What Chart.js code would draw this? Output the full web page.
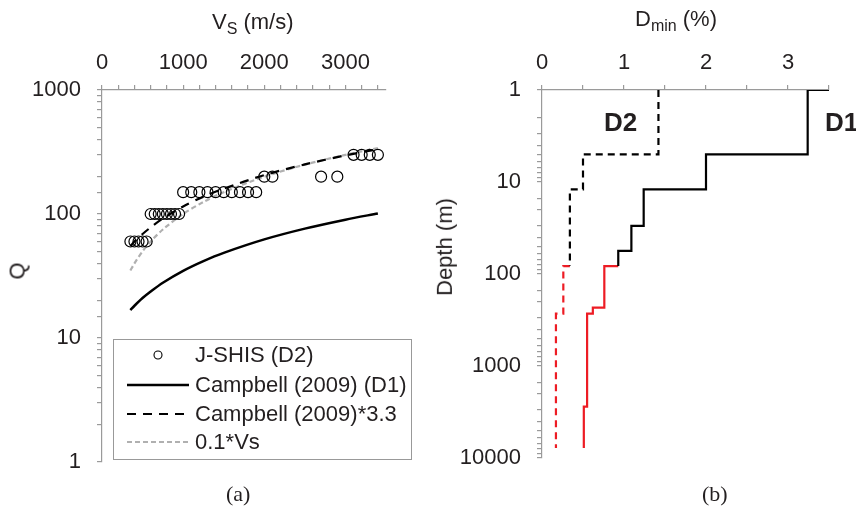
<!DOCTYPE html>
<html>
<head>
<meta charset="utf-8">
<script src="https://cdn.jsdelivr.net/npm/chart.js@4.4.1/dist/chart.umd.min.js"></script>
<style>
  body { margin: 0; background: #fff; }
  #wrap { position: relative; width: 856px; height: 516px; overflow: hidden; font-family: "Liberation Sans", Arial, sans-serif; color: #231f20; }
  canvas { position: absolute; top: 0; }
  .lbl { position: absolute; font-size: 22px; white-space: nowrap; }
  .lbl sub { font-size: 16px; vertical-align: -5px; }
  .cap { position: absolute; font-family: "Liberation Serif", "Times New Roman", serif; font-size: 22px; }
  .tag { position: absolute; font-weight: bold; font-size: 26px; }
  #legend { position: absolute; left: 113px; top: 339px; width: 299px; height: 121px; border: 1px solid #999; box-sizing: border-box; }
  #legend .row { position: absolute; left: 0; height: 28px; display: flex; align-items: center; font-size: 22px; }
  #legend svg { width: 62px; height: 20px; margin-left: 13px; margin-right: 6px; }
</style>
</head>
<body>
<div id="wrap">
  <canvas id="qChart" width="430" height="516" style="left:0"></canvas>
  <canvas id="dChart" width="426" height="516" style="left:430px"></canvas>

  <div class="lbl" style="left:212px; top:9px;">V<sub>S</sub> (m/s)</div>
  <div class="lbl" style="left:9px; top:258px; transform: rotate(-90deg);">Q</div>
  <div class="lbl" style="left:635px; top:6px;">D<sub>min</sub> (%)</div>
  <div class="lbl" style="left:396px; top:234px; transform: rotate(-90deg);">Depth (m)</div>
  <div class="tag" style="left:604px; top:107px;">D2</div>
  <div class="tag" style="left:825px; top:107px;">D1</div>
  <div class="cap" style="left:226px; top:481px;">(a)</div>
  <div class="cap" style="left:702px; top:481px;">(b)</div>

  <div id="legend">
    <div class="row" style="top:1px;"><svg><circle cx="31" cy="10" r="4" fill="none" stroke="#000" stroke-width="1.1"/></svg>J-SHIS (D2)</div>
    <div class="row" style="top:31px;"><svg><line x1="0" y1="10" x2="62" y2="10" stroke="#000" stroke-width="2.5"/></svg>Campbell (2009) (D1)</div>
    <div class="row" style="top:60px;"><svg><line x1="0" y1="10" x2="62" y2="10" stroke="#000" stroke-width="2.2" stroke-dasharray="9,7"/></svg>Campbell (2009)*3.3</div>
    <div class="row" style="top:88px;"><svg><line x1="0" y1="10" x2="62" y2="10" stroke="#b0b0b0" stroke-width="2.2" stroke-dasharray="5,3"/></svg>0.1*Vs</div>
  </div>
</div>

<script>
// (a) Q vs Vs
const jshisVs = [350, 400, 450, 500, 550, 600, 650, 700, 750, 800, 850, 900, 950,
  1000, 1100, 1200, 1300, 1400, 1500, 1600, 1700, 1800, 1900, 2000, 2100,
  2700, 2900, 3100, 3200, 3300, 3400];
const jshisQ = [60, 60, 60, 60, 60, 100, 100, 100, 100, 100, 100, 100, 100,
  150, 150, 150, 150, 150, 150, 150, 150, 150, 150, 200, 200,
  200, 200, 300, 300, 300, 300];

const curveVs = [350, 400, 500, 600, 750, 1000, 1250, 1500, 2000, 2500, 3000, 3400];
const campbellQ = [16.8, 18.2, 21, 23.7, 27.9, 34.8, 41.7, 48.6, 62.4, 76.2, 90, 101];
const campbell33Q = [55, 60, 69, 78, 92, 115, 138, 160, 206, 251, 297, 333];
const vsTenthQ = [35, 40, 50, 60, 75, 100, 125, 150, 200, 250, 300, 340];

const qTickLabels = [1, 10, 100, 1000];
const vsTickLabels = [0, 1000, 2000, 3000];

// (b) Dmin profiles: layer top, layer bottom, damping (%)
const d1Top = [1, 5, 12, 30, 56, 82, 232, 270, 2770];
const d1Bottom = [5, 12, 30, 56, 82, 232, 270, 2770, 7800];
const d1Value = [3.24, 2.0, 1.24, 1.09, 0.93, 0.76, 0.62, 0.55, 0.51];

const d2Top = [1, 5, 12, 82, 270];
const d2Bottom = [5, 12, 82, 270, 7800];
const d2Value = [1.42, 0.5, 0.34, 0.26, 0.17];

const redFromDepth = 82;
const depthTickLabels = [1, 10, 100, 1000, 10000];
const dminTickLabels = [0, 1, 2, 3];

const axisGrey = "#9a9a9a";
const textColor = "#231f20";
Chart.defaults.font.family = "'Liberation Sans', Arial, sans-serif";
Chart.defaults.font.size = 22;
Chart.defaults.color = textColor;

function pairs(xs, ys) {
  return xs.map((x, i) => ({ x: x, y: ys[i] }));
}

// turn layers into a stepped profile and split it at the colour change
function profile(tops, bottoms, values, startX) {
  const shallow = [];
  const deep = [];
  if (startX !== undefined) shallow.push({ x: startX, y: tops[0] });
  values.forEach((v, i) => {
    const target = tops[i] < redFromDepth ? shallow : deep;
    if (target === deep && deep.length === 0 && shallow.length) {
      deep.push(shallow[shallow.length - 1]);
    }
    target.push({ x: v, y: tops[i] });
    target.push({ x: v, y: bottoms[i] });
  });
  return { shallow, deep };
}

function axisGrid() {
  return { drawOnChartArea: false, drawTicks: true, tickLength: 5, color: axisGrey, lineWidth: 1.2 };
}

new Chart(document.getElementById("qChart"), {
  type: "scatter",
  data: {
    datasets: [
      {
        label: "J-SHIS (D2)",
        data: pairs(jshisVs, jshisQ),
        pointStyle: "circle",
        pointRadius: 5.5,
        borderWidth: 1.2,
        borderColor: "#000",
        backgroundColor: "rgba(0,0,0,0)",
      },
      {
        label: "Campbell (2009) (D1)",
        data: pairs(curveVs, campbellQ),
        showLine: true,
        tension: 0.3,
        borderColor: "#000",
        borderWidth: 2.5,
        pointRadius: 0,
      },
      {
        label: "Campbell (2009)*3.3",
        data: pairs(curveVs, campbell33Q),
        showLine: true,
        tension: 0.3,
        borderColor: "#000",
        borderWidth: 2.2,
        borderDash: [9, 7],
        pointRadius: 0,
      },
      {
        label: "0.1*Vs",
        data: pairs(curveVs, vsTenthQ),
        showLine: true,
        tension: 0.3,
        borderColor: "#b0b0b0",
        borderWidth: 2.2,
        borderDash: [5, 3],
        pointRadius: 0,
      },
    ],
  },
  options: {
    responsive: false,
    animation: false,
    layout: { padding: { left: 0, top: 0, right: 44, bottom: 54 } },
    plugins: { legend: { display: false }, tooltip: { enabled: false } },
    scales: {
      x: {
        type: "linear",
        position: "top",
        min: 0,
        max: 3500,
        grid: axisGrid(),
        border: { display: true, color: axisGrey, width: 1.2 },
        afterFit: (s) => { s.height = 90; },
        ticks: {
          stepSize: 200,
          includeBounds: false,
          autoSkip: false,
          maxRotation: 0,
          padding: 9,
          callback: (v) => (vsTickLabels.includes(v) ? String(v) : ""),
        },
      },
      y: {
        type: "logarithmic",
        min: 1,
        max: 1000,
        grid: axisGrid(),
        border: { display: true, color: axisGrey, width: 1.2 },
        afterFit: (s) => { s.width = 102; },
        ticks: {
          autoSkip: false,
          padding: 16,
          callback: (v) => (qTickLabels.includes(v) ? String(v) : ""),
        },
      },
    },
  },
});

const d1 = profile(d1Top, d1Bottom, d1Value, 3.6);
const d2 = profile(d2Top, d2Bottom, d2Value);
const red = "#ed1c24";

new Chart(document.getElementById("dChart"), {
  type: "scatter",
  data: {
    datasets: [
      { label: "D1", data: d1.shallow, showLine: true, borderColor: "#000", borderWidth: 2.2, pointRadius: 0 },
      { label: "D1 deep", data: d1.deep, showLine: true, borderColor: red, borderWidth: 2.2, pointRadius: 0 },
      { label: "D2", data: d2.shallow, showLine: true, borderColor: "#000", borderWidth: 2.2, borderDash: [7, 5], pointRadius: 0 },
      { label: "D2 deep", data: d2.deep, showLine: true, borderColor: red, borderWidth: 2.2, borderDash: [7, 5], pointRadius: 0 },
    ],
  },
  options: {
    responsive: false,
    animation: false,
    layout: { padding: { left: 0, top: 0, right: 27, bottom: 58 } },
    plugins: { legend: { display: false }, tooltip: { enabled: false } },
    scales: {
      x: {
        type: "linear",
        position: "top",
        min: 0,
        max: 3.5,
        grid: axisGrid(),
        border: { display: true, color: axisGrey, width: 1.2 },
        afterFit: (s) => { s.height = 90; },
        ticks: {
          stepSize: 0.5,
          includeBounds: false,
          autoSkip: false,
          maxRotation: 0,
          padding: 9,
          callback: (v) => (dminTickLabels.includes(v) ? String(v) : ""),
        },
      },
      y: {
        type: "logarithmic",
        reverse: true,
        min: 1,
        max: 10000,
        grid: axisGrid(),
        border: { display: true, color: axisGrey, width: 1.2 },
        afterFit: (s) => { s.width = 112; },
        ticks: {
          autoSkip: false,
          padding: 16,
          callback: (v) => (depthTickLabels.includes(v) ? String(v) : ""),
        },
      },
    },
  },
});
</script>
</body>
</html>
